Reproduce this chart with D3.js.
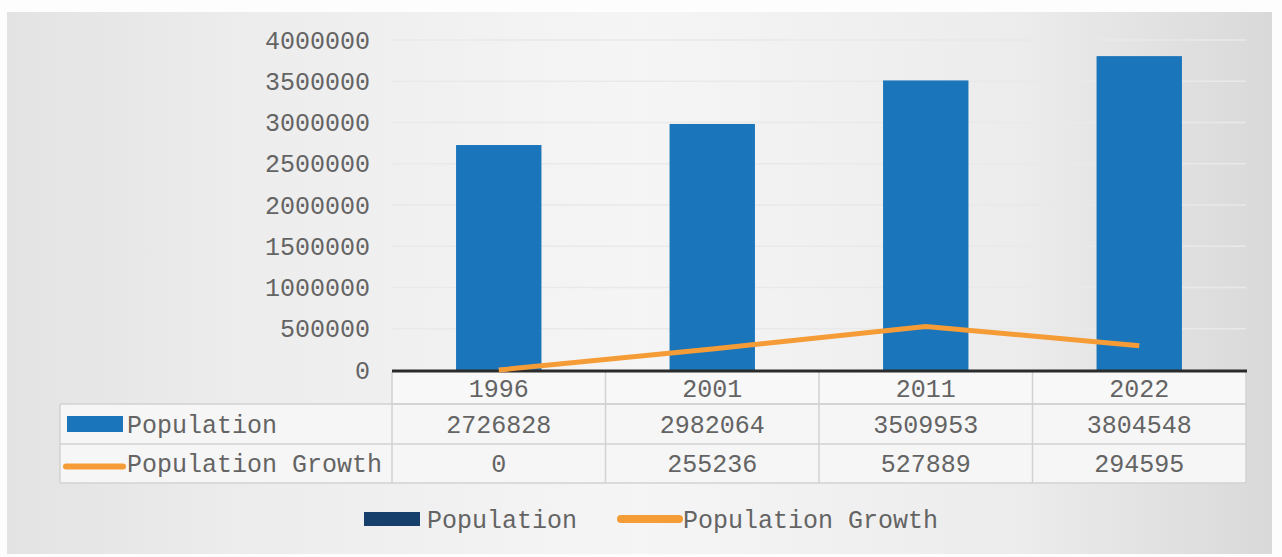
<!DOCTYPE html>
<html>
<head>
<meta charset="utf-8">
<script src="https://cdn.jsdelivr.net/npm/d3@7/dist/d3.min.js"></script>
<style>
  html, body { margin: 0; padding: 0; background: #fdfdfd; }
  svg { display: block; }
  text { font-family: "Liberation Mono", "DejaVu Sans Mono", monospace; }
</style>
</head>
<body>
<svg id="chart" width="1282" height="557"></svg>
<script>
// Census years and the two series shown for them
const years = ["1996", "2001", "2011", "2022"];
const population = [2726828, 2982064, 3509953, 3804548];
const growth = [0, 255236, 527889, 294595];
const seriesNames = ["Population", "Population Growth"];
const yTickValues = [0, 500000, 1000000, 1500000, 2000000, 2500000, 3000000, 3500000, 4000000];

const colors = { bar: "#1b75bb", line: "#f59c36", text: "#646464", grid: "#e9e9e9", cell: "#d2d2d2" };
const fontSize = 25;

const svg = d3.select("#chart");

// Backdrop panel with a soft horizontal gradient
const defs = svg.append("defs");
const grad = defs.append("linearGradient").attr("id", "panelGrad").attr("x1", "0").attr("x2", "1");
[[0, "#e3e3e3"], [0.2, "#ededed"], [0.5, "#f5f5f5"], [0.8, "#ececec"], [1, "#d9d9d9"]]
  .forEach(([o, c]) => grad.append("stop").attr("offset", o).attr("stop-color", c));

svg.append("rect").attr("x", 7).attr("y", 12).attr("width", 1265).attr("height", 542)
  .attr("fill", "url(#panelGrad)");

// Plot geometry
const plot = { left: 392, right: 1246, top: 40, bottom: 370 };

const x = d3.scaleBand().domain(years).range([plot.left, plot.right])
  .paddingInner(0.6).paddingOuter(0.3);
const xCell = d3.scaleBand().domain(years).range([plot.left, plot.right]).padding(0);
const y = d3.scaleLinear().domain([0, 4000000]).range([plot.bottom, plot.top]);

// Horizontal gridlines
svg.append("g").selectAll("line").data(yTickValues.slice(1)).join("line")
  .attr("x1", plot.left).attr("x2", plot.right)
  .attr("y1", d => y(d)).attr("y2", d => y(d))
  .attr("stroke", colors.grid).attr("stroke-width", 1.5);

// Y axis labels
const yAxis = d3.axisLeft(y).tickValues(yTickValues).tickSize(0).tickPadding(0)
  .tickFormat(d3.format("d"));
const yg = svg.append("g").attr("transform", `translate(${plot.left - 22},0)`).call(yAxis);
yg.select(".domain").remove();
yg.selectAll("text").attr("font-size", fontSize).attr("fill", colors.text)
  .attr("font-family", "Liberation Mono, monospace");

// Bars
svg.append("g").selectAll("rect").data(years).join("rect")
  .attr("x", d => x(d)).attr("width", x.bandwidth())
  .attr("y", (d, i) => y(population[i]))
  .attr("height", (d, i) => y(0) - y(population[i]))
  .attr("fill", colors.bar);

// Data table: header row of years, then one row per series
const rows = { headTop: 372, popTop: 404, growTop: 444, bottom: 483 };
const tableLeft = 60;

const tbl = svg.append("g");
tbl.append("rect").attr("x", plot.left).attr("y", rows.headTop)
  .attr("width", plot.right - plot.left).attr("height", rows.popTop - rows.headTop)
  .attr("fill", "#f8f8f8");
tbl.append("rect").attr("x", tableLeft).attr("y", rows.popTop)
  .attr("width", plot.right - tableLeft).attr("height", rows.bottom - rows.popTop)
  .attr("fill", "#f6f6f6");

const hLines = [
  [plot.left, rows.popTop], [tableLeft, rows.popTop],
  [tableLeft, rows.growTop], [tableLeft, rows.bottom]
];
hLines.forEach(([x0, yy]) => tbl.append("line")
  .attr("x1", x0).attr("x2", plot.right).attr("y1", yy).attr("y2", yy)
  .attr("stroke", colors.cell).attr("stroke-width", 1.5));

// vertical cell dividers
const vx = years.map(d => xCell(d)).concat([plot.right]);
vx.forEach(xx => tbl.append("line")
  .attr("x1", xx).attr("x2", xx).attr("y1", rows.headTop).attr("y2", rows.bottom)
  .attr("stroke", colors.cell).attr("stroke-width", 1.5));
tbl.append("line").attr("x1", tableLeft).attr("x2", tableLeft)
  .attr("y1", rows.popTop).attr("y2", rows.bottom)
  .attr("stroke", colors.cell).attr("stroke-width", 1.5);

const cellText = (vals, top, bottom) => tbl.append("g").selectAll("text").data(vals).join("text")
  .attr("x", (d, i) => xCell(years[i]) + xCell.bandwidth() / 2)
  .attr("y", (top + bottom) / 2)
  .attr("dy", "0.35em")
  .attr("text-anchor", "middle")
  .attr("font-size", fontSize).attr("fill", colors.text)
  .text(d => d);

cellText(years, rows.headTop, rows.popTop);
cellText(population, rows.popTop, rows.growTop);
cellText(growth, rows.growTop, rows.bottom);

// Row keys inside the table
const popMid = (rows.popTop + rows.growTop) / 2;
const growMid = (rows.growTop + rows.bottom) / 2;
tbl.append("rect").attr("x", 67).attr("y", popMid - 8).attr("width", 56).attr("height", 16)
  .attr("fill", colors.bar);
tbl.append("line").attr("x1", 66).attr("x2", 123).attr("y1", growMid + 3).attr("y2", growMid + 3)
  .attr("stroke", colors.line).attr("stroke-width", 6).attr("stroke-linecap", "round");
tbl.append("text").attr("x", 127).attr("y", popMid).attr("dy", "0.35em")
  .attr("font-size", fontSize).attr("fill", colors.text).text(seriesNames[0]);
tbl.append("text").attr("x", 127).attr("y", growMid).attr("dy", "0.35em")
  .attr("font-size", fontSize).attr("fill", colors.text).text(seriesNames[1]);

// Baseline axis rule
svg.append("line").attr("x1", plot.left).attr("x2", plot.right + 1)
  .attr("y1", y(0) + 1).attr("y2", y(0) + 1)
  .attr("stroke", "#2b2b2b").attr("stroke-width", 3);

// Growth line
const line = d3.line()
  .x((d, i) => x(years[i]) + x.bandwidth() / 2)
  .y(d => y(d));
svg.append("path").datum(growth)
  .attr("d", line)
  .attr("fill", "none").attr("stroke", colors.line)
  .attr("stroke-width", 5).attr("stroke-linejoin", "round");

// Bottom legend
const lg = svg.append("g");
const legendY = 519;
lg.append("rect").attr("x", 364).attr("y", legendY - 7).attr("width", 56).attr("height", 14)
  .attr("fill", "#173f6b");
lg.append("text").attr("x", 427).attr("y", legendY).attr("dy", "0.35em")
  .attr("font-size", fontSize).attr("fill", colors.text).text(seriesNames[0]);
lg.append("line").attr("x1", 621).attr("x2", 679).attr("y1", legendY).attr("y2", legendY)
  .attr("stroke", colors.line).attr("stroke-width", 8).attr("stroke-linecap", "round");
lg.append("text").attr("x", 683).attr("y", legendY).attr("dy", "0.35em")
  .attr("font-size", fontSize).attr("fill", colors.text).text(seriesNames[1]);
</script>
</body>
</html>
